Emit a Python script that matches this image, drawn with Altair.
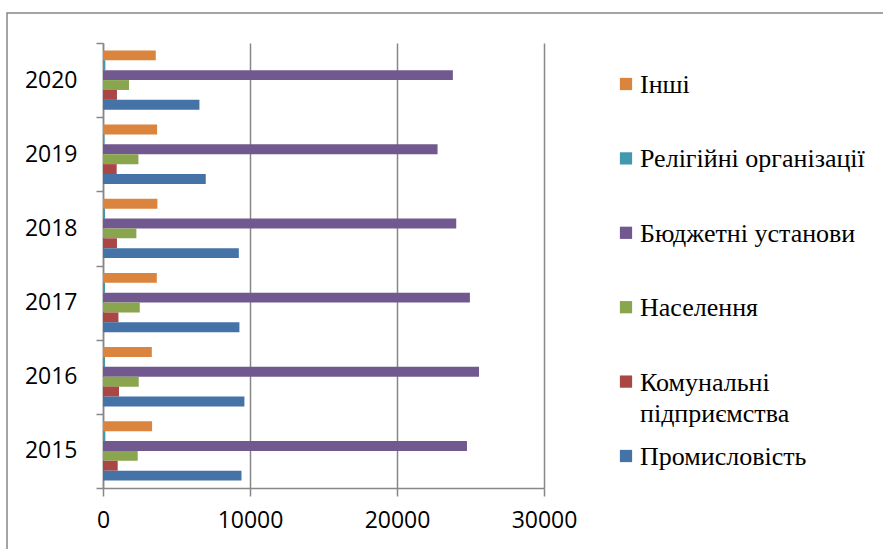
import altair as alt
import pandas as pd

# Years shown on the vertical axis (2020 at the top)
years = [2015, 2016, 2017, 2018, 2019, 2020]

# Consumer groups, listed top-to-bottom inside each year group
series_order = [
    "Інші",
    "Релігійні організації",
    "Бюджетні установи",
    "Населення",
    "Комунальні підприємства",
    "Промисловість",
]
legend_labels = [
    "Інші",
    "Релігійні організації",
    "Бюджетні установи",
    "Населення",
    "Комунальні\nпідприємства",
    "Промисловість",
]
series_colors = ["#DB843D", "#4198AF", "#71588F", "#89A54E", "#AA4643", "#4572A7"]

# Values per group, 2015..2020
inshi = [3340, 3320, 3660, 3700, 3680, 3590]
religiini = [160, 140, 140, 140, 100, 160]
biudzhetni = [24760, 25580, 24960, 24030, 22760, 23800]
naselennia = [2360, 2430, 2500, 2270, 2410, 1770]
komunalni = [1000, 1090, 1050, 950, 930, 950]
promyslovist = [9420, 9620, 9280, 9240, 6990, 6560]

x_ticks = [0, 10000, 20000, 30000]

series_values = [inshi, religiini, biudzhetni, naselennia, komunalni, promyslovist]
rows = []
for name, vals in zip(series_order, series_values):
    for yr, v in zip(years, vals):
        rows.append({"year": yr, "series": name, "value": v})
df = pd.DataFrame(rows)

leg_df = pd.DataFrame({"series": series_order, "label": legend_labels})

GRID = "#878787"
SANS = "Open Sans"
SERIF = "Liberation Serif"
W, H = 441, 445

color_scale = alt.Scale(domain=series_order, range=series_colors)

# Outer chart border
frame = alt.Chart(pd.DataFrame({"k": [0]})).mark_rect(
    fill="transparent", stroke=GRID, strokeWidth=1.5
).encode(
    x=alt.value(-96), x2=alt.value(800), y=alt.value(-30), y2=alt.value(600)
)

bars = alt.Chart(df).mark_bar().encode(
    x=alt.X(
        "value:Q",
        scale=alt.Scale(domain=[0, 30000], nice=False),
        axis=alt.Axis(
            values=x_ticks, format="d", title=None,
            grid=True, gridColor=GRID, gridWidth=1.5,
            tickSize=8, tickColor=GRID, tickWidth=1.5,
            domainColor=GRID, domainWidth=1.5,
            labelFont=SANS, labelFontSize=23, labelColor="#000000",
            labelPadding=13, labelFlush=False,
        ),
    ),
    y=alt.Y(
        "year:O",
        sort="descending",
        scale=alt.Scale(paddingInner=0, paddingOuter=0),
        axis=alt.Axis(
            title=None, tickBand="extent",
            tickSize=7, tickColor=GRID, tickWidth=1.5,
            domainColor=GRID, domainWidth=1.5,
            labelFont=SANS, labelFontSize=23, labelColor="#000000",
            labelPadding=19,
        ),
    ),
    yOffset=alt.YOffset(
        "series:N", sort=series_order,
        scale=alt.Scale(paddingInner=0, paddingOuter=0.75),
    ),
    color=alt.Color("series:N", scale=color_scale, legend=None),
)

legend_y = alt.Y(
    "series:N", sort=series_order,
    scale=alt.Scale(type="point", range=[41, 413], padding=0),
    axis=None,
)

legend_marks = alt.Chart(leg_df).mark_square(size=150, opacity=1).encode(
    x=alt.value(523),
    y=legend_y,
    color=alt.Color("series:N", scale=color_scale, legend=None),
)

legend_text = alt.Chart(leg_df).mark_text(
    align="left", baseline="top", dy=-12, lineBreak="\n", lineHeight=31.5,
    font=SERIF, fontSize=26, color="#000000",
).encode(
    x=alt.value(537),
    y=legend_y,
    text="label:N",
)

chart = (
    alt.layer(frame, bars, legend_marks, legend_text)
    .resolve_scale(y="independent")
    .properties(
        width=W, height=H,
        autosize=alt.AutoSizeParams(type="none"),
        padding={"left": 103, "top": 43, "right": 339, "bottom": 61},
        background="#ffffff",
    )
    .configure_view(strokeWidth=0)
)

chart.save("out.html", embed_options={"renderer": "svg", "actions": False})
